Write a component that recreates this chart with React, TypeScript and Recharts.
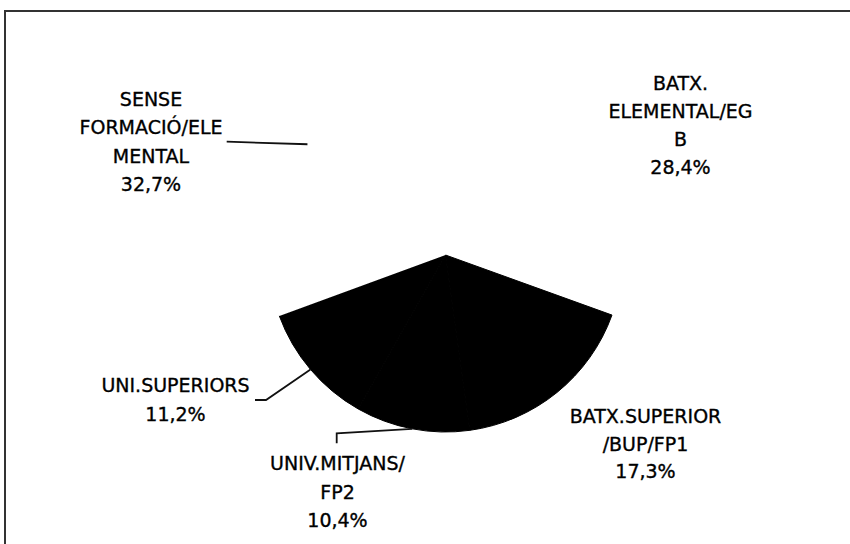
import { Cell, Pie, PieChart } from "recharts";

// slices in clockwise order, starting from the upper right one
const categories = [
  "BATX. ELEMENTAL/EGB",
  "BATX.SUPERIOR /BUP/FP1",
  "UNIV.MITJANS/ FP2",
  "UNI.SUPERIORS",
  "SENSE FORMACIÓ/ELEMENTAL",
];
const shares = [28.4, 17.3, 10.4, 11.2, 32.7];
// how the label text wraps, as in the original
const labelLines = [
  ["BATX.", "ELEMENTAL/EG", "B"],
  ["BATX.SUPERIOR", "/BUP/FP1"],
  ["UNIV.MITJANS/", "FP2"],
  ["UNI.SUPERIORS"],
  ["SENSE", "FORMACIÓ/ELE", "MENTAL"],
];
const sliceColors = ["#ffffff", "#000000", "#000000", "#000000", "#ffffff"];

// label placement, relative to the pie centre (layout only)
const labelOffsets = [
  { dx: 235, dy: -172, lh: 28 },
  { dx: 200, dy: 161, lh: 27.5 },
  { dx: -108, dy: 208, lh: 28.5 },
  { dx: -270, dy: 130, lh: 29 },
  { dx: -294.5, dy: -156.5, lh: 28.5 },
];
// leader line bend points, relative to the pie centre (null = no leader)
const leaderPoints: ([number, number][] | null)[] = [
  null,
  null,
  [
    [-108.8, 178.3],
    [-108.8, 188.3],
  ],
  [
    [-179.5, 145],
    [-190.5, 145],
  ],
  [[-218.8, -113.3]],
];

const data = categories.map((name, i) => ({ name, value: shares[i] }));

const RADIAN = Math.PI / 180;
const fmt = (v: number) => v.toFixed(1).replace(".", ",") + "%";

function renderLabel(props: any) {
  const { cx, cy, midAngle, outerRadius, index } = props;
  const off = labelOffsets[index];
  const lines = [...labelLines[index], fmt(shares[index])];
  const x = cx + off.dx;
  const y0 = cy + off.dy;
  const pts = leaderPoints[index];
  let path = "";
  if (pts) {
    const sx = cx + Math.cos(-midAngle * RADIAN) * outerRadius;
    const sy = cy + Math.sin(-midAngle * RADIAN) * outerRadius;
    path = `M${sx},${sy}` + pts.map(([px, py]) => ` L${cx + px},${cy + py}`).join("");
  }
  return (
    <g key={`lbl-${index}`}>
      {path && <path d={path} stroke="#111" strokeWidth={1.8} fill="none" />}
      {lines.map((t, k) => (
        <text
          key={k}
          x={x}
          y={y0 + k * off.lh}
          textAnchor="middle"
          dominantBaseline="central"
          fontFamily="DejaVu Sans"
          fontSize={19}
          fill="#000"
          stroke="#000"
          strokeWidth={0.35}
        >
          {t}
        </text>
      ))}
    </g>
  );
}

export default function App() {
  return (
    <div style={{ position: "absolute", left: 0, top: 0, width: 850, height: 544, background: "#fff" }}>
      <div
        style={{
          position: "absolute",
          left: 4,
          top: 10,
          width: 846,
          height: 534,
          borderTop: "2px solid #333",
          borderLeft: "2px solid #333",
        }}
      />
      <div style={{ position: "absolute", left: 0, top: 0 }}>
        <PieChart width={850} height={544} margin={{ top: 0, right: 0, bottom: 0, left: 0 }}>
          <Pie
            data={data}
            dataKey="value"
            nameKey="name"
            cx={445.5}
            cy={255}
            outerRadius={177}
            startAngle={82.4}
            endAngle={82.4 - 360}
            stroke="none"
            label={renderLabel}
            labelLine={false}
            isAnimationActive={false}
          >
            {data.map((d, i) => (
              <Cell
                key={d.name}
                fill={sliceColors[i]}
                stroke={sliceColors[i] === "#000000" ? "#000000" : "none"}
                strokeWidth={1}
              />
            ))}
          </Pie>
        </PieChart>
      </div>
    </div>
  );
}
